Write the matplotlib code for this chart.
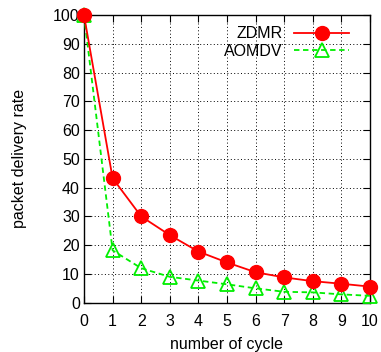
import matplotlib.pyplot as plt

plt.rcParams['font.family'] = ['Liberation Sans', 'DejaVu Sans']
plt.rcParams['font.size'] = 11.5

cycles = [0, 1, 2, 3, 4, 5, 6, 7, 8, 9, 10]
zdmr = [100, 43.3, 30.0, 23.5, 17.8, 14.0, 10.6, 8.8, 7.5, 6.6, 5.6]
aomdv = [100, 18.2, 12.0, 9.0, 7.7, 6.4, 5.0, 3.8, 3.6, 2.9, 2.4]

fig = plt.figure(figsize=(3.81, 3.52), dpi=100)
ax = fig.add_axes([0.2205, 0.14, 0.7505, 0.817])

ax.plot(cycles, zdmr, color='#ff0000', lw=1.3, marker='o', markersize=10,
        label='ZDMR', clip_on=False, zorder=4)
ax.plot(cycles, aomdv, color='#00ee00', lw=1.3, ls=(0, (3, 2)), marker='^',
        markersize=10, markerfacecolor='none', markeredgewidth=1.3,
        label='AOMDV', clip_on=False, zorder=3)

ax.set_xlim(0, 10)
ax.set_ylim(0, 100)
ax.set_xticks(range(0, 11))
ax.set_yticks(range(0, 101, 10))
ax.grid(True, color='black', ls=(0, (1, 2.5)), lw=0.7)
ax.tick_params(direction='in', top=True, right=True, length=5, width=0.8)
ax.tick_params(axis='y', pad=3)
ax.tick_params(axis='x', pad=8)
for s in ax.spines.values():
    s.set_linewidth(1.0)

ax.set_xlabel('number of cycle', labelpad=6)
ax.set_ylabel('packet delivery rate', labelpad=19)

ax.legend(loc='upper right', frameon=False, markerfirst=False, handlelength=3.4,
          borderaxespad=0.3, labelspacing=0.15, handletextpad=0.75,
          bbox_to_anchor=(0.965, 1.0))

fig.savefig('out.png', dpi=100)
